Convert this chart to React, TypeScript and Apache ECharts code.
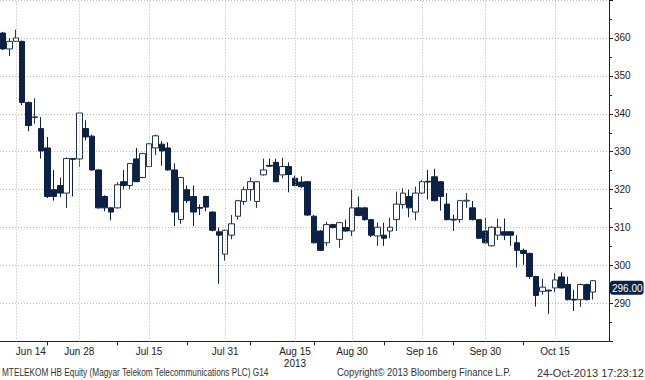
import { useEffect, useRef } from "react";
import * as echarts from "echarts";

// Trading days (MM-DD, 2013)
const dates = [
  "06-12", "06-13", "06-14",
  "06-17", "06-18", "06-19", "06-20", "06-21",
  "06-24", "06-25", "06-26", "06-27", "06-28",
  "07-01", "07-02", "07-03", "07-04", "07-05",
  "07-08", "07-09", "07-10", "07-11", "07-12",
  "07-15", "07-16", "07-17", "07-18", "07-19",
  "07-22", "07-23", "07-24", "07-25", "07-26",
  "07-29", "07-30", "07-31", "08-01", "08-02",
  "08-05", "08-06", "08-07", "08-08", "08-09",
  "08-12", "08-13", "08-14", "08-15", "08-16",
  "08-21", "08-22", "08-23",
  "08-26", "08-27", "08-28", "08-29", "08-30",
  "09-02", "09-03", "09-04", "09-05", "09-06",
  "09-09", "09-10", "09-11", "09-12", "09-13",
  "09-16", "09-17", "09-18", "09-19", "09-20",
  "09-23", "09-24", "09-25", "09-26", "09-27",
  "09-30", "10-01", "10-02", "10-03", "10-04",
  "10-07", "10-08", "10-09", "10-10", "10-11",
  "10-14", "10-15", "10-16", "10-17", "10-18",
  "10-21", "10-22", "10-24",
];

const opens = [
  361.3, 357.1, 359.1, 359.1, 343.0, 339.0, 336.1, 331.0, 320.0, 321.1,
  319.1, 328.2, 328.1, 336.1, 334.1, 325.2, 318.2, 315.2, 315.2, 322.1,
  321.1, 328.1, 323.2, 326.1, 331.0, 332.0, 331.0, 325.2, 312.1, 320.0,
  318.2, 315.3, 318.2, 314.1, 308.9, 303.0, 308.0, 313.0, 316.9, 320.0,
  316.9, 323.9, 326.4, 327.2, 323.9, 326.1, 323.0, 322.0, 322.1, 313.0,
  309.1, 306.0, 310.8, 306.9, 310.0, 309.1, 315.2, 315.2, 312.1, 307.8,
  308.0, 309.1, 312.1, 316.1, 318.2, 314.1, 319.1, 322.2, 323.4, 322.1,
  316.2, 312.2, 312.1, 317.0, 315.2, 312.1, 309.1, 305.2, 308.0, 308.9,
  308.9, 306.0, 304.0, 303.2, 297.1, 293.2, 293.5, 294.1, 297.0, 295.0,
  291.1, 291.0, 295.0, 293.0,
];
const closes = [
  357.1, 359.1, 360.0, 343.0, 336.9, 339.2, 330.2, 318.2, 318.2, 319.1,
  328.2, 328.0, 340.2, 333.9, 325.2, 315.2, 315.2, 314.1, 321.3, 321.1,
  326.9, 322.1, 329.5, 332.1, 334.2, 330.2, 325.2, 314.1, 323.2, 317.1,
  314.1, 315.1, 315.4, 309.3, 308.0, 309.3, 311.0, 317.1, 320.0, 322.1,
  322.1, 325.2, 326.2, 322.1, 326.1, 324.0, 321.1, 320.8, 313.3, 306.0,
  304.0, 310.8, 310.0, 311.3, 309.1, 315.2, 313.2, 312.1, 308.0, 310.1,
  307.2, 310.1, 316.2, 319.1, 315.2, 319.1, 322.1, 322.0, 317.1, 318.2,
  312.1, 312.0, 317.1, 317.2, 312.1, 307.2, 306.0, 310.1, 310.1, 308.0,
  308.0, 304.0, 303.2, 297.1, 292.1, 294.3, 293.3, 296.2, 294.1, 291.0,
  290.9, 295.0, 291.0, 296.0,
];
const lows = [
  356.8, 355.2, 359.0, 342.3, 335.4, 337.4, 328.2, 317.8, 317.1, 318.0,
  315.2, 318.2, 326.1, 333.0, 325.0, 315.0, 314.3, 311.9, 315.0, 320.2,
  320.2, 322.0, 323.0, 326.0, 329.1, 326.3, 325.0, 310.4, 311.0, 316.5,
  310.4, 313.3, 314.3, 309.0, 295.2, 301.3, 306.9, 312.1, 316.0, 317.1,
  315.2, 323.7, 326.0, 322.0, 323.0, 319.3, 320.9, 320.5, 313.1, 305.8,
  303.8, 305.2, 309.8, 304.7, 308.9, 307.8, 313.0, 311.8, 307.5, 305.2,
  305.2, 307.2, 309.1, 315.0, 312.7, 311.9, 318.9, 317.4, 316.9, 314.5,
  311.9, 309.1, 311.3, 315.2, 311.9, 307.0, 305.8, 305.0, 306.7, 306.7,
  305.2, 299.5, 300.2, 296.5, 289.2, 292.3, 287.2, 293.0, 293.9, 290.8,
  288.0, 289.1, 290.8, 291.0,
];
const highs = [
  361.6, 360.0, 362.2, 359.3, 343.2, 344.1, 339.1, 333.9, 325.2, 323.2,
  328.5, 328.3, 340.3, 338.3, 334.5, 325.4, 318.5, 315.4, 322.0, 325.2,
  327.0, 331.0, 329.7, 332.3, 334.5, 332.8, 332.5, 326.9, 323.4, 321.1,
  321.1, 316.1, 318.4, 314.3, 310.0, 309.5, 313.3, 317.3, 320.8, 323.2,
  322.3, 328.2, 328.2, 328.2, 328.4, 327.2, 323.7, 323.5, 322.3, 313.3,
  309.3, 311.5, 311.0, 311.5, 312.1, 320.0, 318.2, 315.4, 312.3, 311.3,
  311.3, 312.6, 319.5, 320.4, 320.0, 320.8, 322.5, 325.2, 325.5, 322.3,
  319.1, 313.4, 317.3, 319.1, 317.0, 312.3, 312.6, 310.3, 312.4, 312.4,
  309.1, 308.0, 304.5, 303.4, 297.3, 296.5, 293.6, 298.0, 298.2, 297.1,
  293.6, 295.2, 295.2, 296.2,
];

const labelDates = ["06-14", "06-28", "07-15", "07-31", "08-15", "08-30", "09-16", "09-30", "10-15"];
const labelTexts = ["Jun 14", "Jun 28", "Jul 15", "Jul 31", "Aug 15\n2013", "Aug 30", "Sep 16", "Sep 30", "Oct 15"];
const tickDates = ["06-21", "07-08", "07-23", "08-06", "08-22", "09-06", "09-23", "10-08"];
const lastPrice = 296.0;

const footerLeft = "MTELEKOM HB Equity (Magyar Telekom Telecommunications PLC) G14";
const footerMid = "Copyright\u00A9 2013 Bloomberg Finance L.P.";
const footerRight = "24-Oct-2013 17:23:12";

const FONT = "'Liberation Sans', Arial, sans-serif";
const NAVY = "#0b2246";

export default function App() {
  const ref = useRef<HTMLDivElement>(null);
  useEffect(() => {
    const chart = echarts.init(ref.current!, null, { renderer: "svg" });
    const cats = [...dates, "pad1", "pad2"];
    const data = dates.map((_, i) => [opens[i], closes[i], lows[i], highs[i]]);
    const labelIdx = labelDates.map((d) => cats.indexOf(d));
    const tickIdx = tickDates.map((d) => cats.indexOf(d));
    const dotted = { color: "#b8b8b8", width: 1, type: [1, 2] as number[] };

    chart.setOption({
      animation: false,
      backgroundColor: "#ffffff",
      grid: { left: -1, top: -3.3, width: 610, height: 344.7, containLabel: false },
      xAxis: {
        type: "category",
        data: cats,
        boundaryGap: true,
        axisLine: { show: true, lineStyle: { color: "#222", width: 1 } },
        axisTick: {
          show: true,
          alignWithLabel: true,
          interval: (i: number) => tickIdx.includes(i),
          length: 4,
          lineStyle: { color: "#222" },
        },
        axisLabel: {
          interval: (i: number) => labelIdx.includes(i),
          formatter: (v: string) => {
            const k = labelDates.indexOf(v);
            return k >= 0 ? labelTexts[k] : "";
          },
          alignMinLabel: "left",
          fontSize: 10,
          lineHeight: 12,
          color: "#222",
          fontFamily: FONT,
          margin: 4,
        },
        splitLine: { show: false },
      },
      yAxis: {
        type: "value",
        position: "right",
        min: 280,
        max: 370,
        interval: 10,
        axisLine: { show: true, lineStyle: { color: "#222", width: 1 } },
        axisTick: { show: true, length: 4, lineStyle: { color: "#222" } },
        minorTick: { show: true, splitNumber: 2, length: 3, lineStyle: { color: "#222" } },
        axisLabel: {
          formatter: (v: number) => (v === 280 || v === 370 ? "" : String(v)),
          fontSize: 10,
          color: "#222",
          fontFamily: FONT,
          margin: 5,
        },
        splitLine: { show: true, lineStyle: dotted },
      },
      series: [
        {
          type: "candlestick",
          data,
          barWidth: 6,
          itemStyle: {
            color: "#ffffff",
            color0: NAVY,
            borderColor: "#26334d",
            borderColor0: NAVY,
            borderWidth: 1,
          },
          markLine: {
            silent: true,
            symbol: ["none", "none"],
            animation: false,
            data: [
              ...labelIdx.map((i) => ({
                xAxis: i,
                lineStyle: dotted,
                label: { show: false },
              })),
              {
                yAxis: lastPrice,
                lineStyle: { color: "rgba(0,0,0,0)", width: 1, type: "solid" },
                label: {
                  show: true,
                  position: "end",
                  distance: 1,
                  verticalAlign: "top",
                  formatter: lastPrice.toFixed(2),
                  color: "#ffffff",
                  backgroundColor: NAVY,
                  borderRadius: 3,
                  padding: [3, 1, 1, 2],
                  fontSize: 10,
                  fontFamily: FONT,
                  opacity: 1,
                },
              },
            ],
          },
        },
      ],
      graphic: [
        {
          type: "text",
          x: 2,
          y: 367,
          scaleX: 0.75,
          style: { text: footerLeft, fontSize: 11, fill: "#333", fontFamily: FONT },
        },
        {
          type: "text",
          x: 337,
          y: 367,
          scaleX: 0.86,
          style: { text: footerMid, fontSize: 11, fill: "#333", fontFamily: FONT },
        },
        {
          type: "text",
          x: 644,
          y: 367,
          scaleX: 1.0,
          style: { text: footerRight, fontSize: 11, fill: "#333", fontFamily: FONT, align: "right" },
        },
      ],
    });
    return () => chart.dispose();
  }, []);
  return (
    <div
      ref={ref}
      style={{ position: "fixed", left: 0, top: 0, width: 645, height: 380, background: "#fff" }}
    />
  );
}
